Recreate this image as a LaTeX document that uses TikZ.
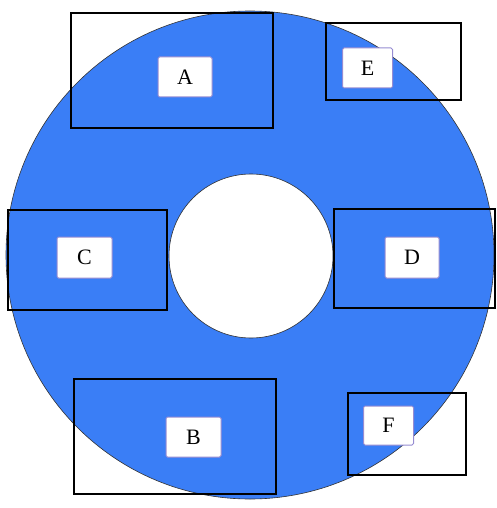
\documentclass[tikz,border=0pt]{standalone}
\usepackage{fontspec}
\setmainfont{Liberation Serif}
\definecolor{ringblue}{RGB}{58,126,246}
\definecolor{tagedge}{RGB}{150,140,210}
\tikzset{
  frame/.style={draw=black, line width=1.8pt, fill=none},
  tag/.style={draw=tagedge, fill=white, line width=1pt, rounded corners=1.5pt, inner sep=0pt, font=\fontsize{22}{24}\selectfont},
}
\begin{document}
\begin{tikzpicture}[x=1pt,y=-1pt]
\useasboundingbox (0,0) rectangle (496,508);
% ring
\fill[ringblue, even odd rule] (250,255) circle[radius=244pt] (251,256) circle[radius=82pt];
\draw[black!80, line width=0.6pt] (250,255) circle[radius=244pt];
\draw[black!80, line width=0.6pt] (251,256) circle[radius=82pt];
% frames
\node[frame, minimum width=202pt, minimum height=115pt] (fa) at (172,70.5) {};
\node[frame, minimum width=135pt, minimum height=77pt] (fe) at (393.5,61.5) {};
\node[frame, minimum width=159pt, minimum height=100pt] (fc) at (87.5,260) {};
\node[frame, minimum width=161pt, minimum height=99pt] (fd) at (414.5,258.5) {};
\node[frame, minimum width=202pt, minimum height=115pt] (fb) at (175,436.5) {};
\node[frame, minimum width=118pt, minimum height=82pt] (ff) at (407,434) {};
% tags
\node[tag, minimum width=54pt, minimum height=40pt] (ta) at (185,77) {A};
\node[tag, minimum width=50pt, minimum height=40pt] (te) at (367.5,68) {E};
\node[tag, minimum width=55pt, minimum height=41pt] (tc) at (84.5,257.5) {C};
\node[tag, minimum width=54pt, minimum height=41pt] (td) at (412,257.5) {D};
\node[tag, minimum width=55pt, minimum height=40pt] (tb) at (193.5,437) {B};
\node[tag, minimum width=50pt, minimum height=39pt] (tf) at (388.5,425.5) {F};
\end{tikzpicture}
\end{document}
